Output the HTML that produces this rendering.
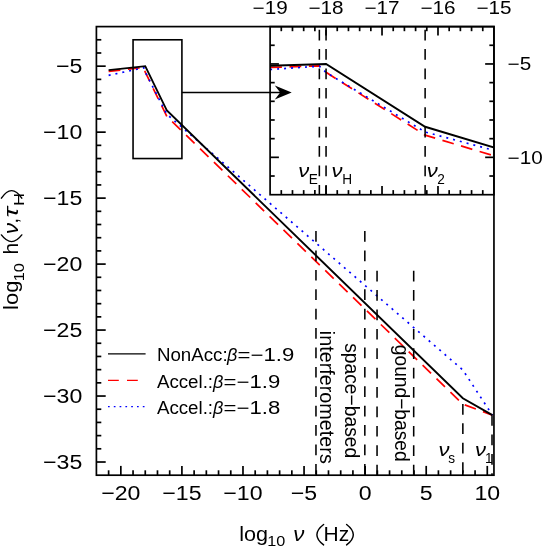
<!DOCTYPE html>
<html><head><meta charset="utf-8"><title>plot</title>
<style>html,body{margin:0;padding:0;background:#fff;}svg{display:block;will-change:transform;}</style>
</head><body>
<svg width="545" height="549" viewBox="0 0 545 549" font-family='"Liberation Sans", sans-serif' fill="#000">
<rect x="0" y="0" width="545" height="549" fill="#fff"/>
<defs><clipPath id="ci"><rect x="270.1" y="26.6" width="223.85" height="168.1"/></clipPath></defs>
<polyline points="108.62,71.3 143.79,67.5 145.26,72.09 166.88,116.47 462.85,404.19 492.41,415.17" fill="none" stroke="#f00" stroke-width="1.7" stroke-linejoin="miter" stroke-dasharray="11.8 7.6"/>
<polyline points="108.62,75.37 143.79,67.77 145.26,72.2 166.88,114.24 462.85,369.99 492.41,415.17" fill="none" stroke="#00f" stroke-width="1.7" stroke-linejoin="miter" stroke-dasharray="2 5"/>
<polyline points="108.62,70.14 145.26,66.18 166.88,110.55 462.85,398.28 492.41,415.17" fill="none" stroke="#000" stroke-width="1.9" stroke-linejoin="miter"/>
<g clip-path="url(#ci)">
<polyline points="270.1,67.47 319.35,65.82 326.06,72.32 425.12,135.14 1781.09,542.44 1916.52,557.98" fill="none" stroke="#f00" stroke-width="1.7" stroke-linejoin="miter" stroke-dasharray="11.8 7.6"/>
<polyline points="270.1,69.48 319.35,66.2 326.06,72.47 425.12,131.98 1781.09,494.03 1916.52,557.98" fill="none" stroke="#00f" stroke-width="1.7" stroke-linejoin="miter" stroke-dasharray="2 5"/>
<polyline points="270.1,65.82 326.06,63.96 425.12,126.77 1781.09,534.08 1916.52,557.98" fill="none" stroke="#000" stroke-width="1.9" stroke-linejoin="miter"/>
</g>
<line x1="315.97" y1="231.11" x2="315.97" y2="475.2" stroke="#000" stroke-width="1.55" stroke-dasharray="10.7 8.7"/>
<line x1="364.83" y1="231.11" x2="364.83" y2="475.2" stroke="#000" stroke-width="1.55" stroke-dasharray="10.7 8.7"/>
<line x1="377.05" y1="270.69" x2="377.05" y2="475.2" stroke="#000" stroke-width="1.55" stroke-dasharray="10.7 8.7"/>
<line x1="413.69" y1="270.69" x2="413.69" y2="475.2" stroke="#000" stroke-width="1.55" stroke-dasharray="10.7 8.7"/>
<line x1="462.85" y1="403.95" x2="462.85" y2="475.2" stroke="#000" stroke-width="1.55" stroke-dasharray="10.7 8.7"/>
<line x1="492.01" y1="415.17" x2="492.01" y2="475.2" stroke="#000" stroke-width="1.55" stroke-dasharray="10.7 8.7"/>
<line x1="319.35" y1="26.6" x2="319.35" y2="194.7" stroke="#000" stroke-width="1.55" stroke-dasharray="10.7 8.7" stroke-dashoffset="16.3"/>
<line x1="326.06" y1="26.6" x2="326.06" y2="194.7" stroke="#000" stroke-width="1.55" stroke-dasharray="10.7 8.7" stroke-dashoffset="16.3"/>
<line x1="425.12" y1="26.6" x2="425.12" y2="194.7" stroke="#000" stroke-width="1.55" stroke-dasharray="10.7 8.7" stroke-dashoffset="16.3"/>
<rect x="96.4" y="26.6" width="397.55" height="448.6" fill="none" stroke="#000" stroke-width="1.7"/>
<line x1="96.4" y1="462.01" x2="105.7" y2="462.01" stroke="#000" stroke-width="1.7"/>
<line x1="96.4" y1="448.81" x2="101.3" y2="448.81" stroke="#000" stroke-width="1.7"/>
<line x1="96.4" y1="435.62" x2="101.3" y2="435.62" stroke="#000" stroke-width="1.7"/>
<line x1="96.4" y1="422.42" x2="101.3" y2="422.42" stroke="#000" stroke-width="1.7"/>
<line x1="96.4" y1="409.23" x2="101.3" y2="409.23" stroke="#000" stroke-width="1.7"/>
<line x1="96.4" y1="396.04" x2="105.7" y2="396.04" stroke="#000" stroke-width="1.7"/>
<line x1="96.4" y1="382.84" x2="101.3" y2="382.84" stroke="#000" stroke-width="1.7"/>
<line x1="96.4" y1="369.65" x2="101.3" y2="369.65" stroke="#000" stroke-width="1.7"/>
<line x1="96.4" y1="356.45" x2="101.3" y2="356.45" stroke="#000" stroke-width="1.7"/>
<line x1="96.4" y1="343.26" x2="101.3" y2="343.26" stroke="#000" stroke-width="1.7"/>
<line x1="96.4" y1="330.06" x2="105.7" y2="330.06" stroke="#000" stroke-width="1.7"/>
<line x1="96.4" y1="316.87" x2="101.3" y2="316.87" stroke="#000" stroke-width="1.7"/>
<line x1="96.4" y1="303.68" x2="101.3" y2="303.68" stroke="#000" stroke-width="1.7"/>
<line x1="96.4" y1="290.48" x2="101.3" y2="290.48" stroke="#000" stroke-width="1.7"/>
<line x1="96.4" y1="277.29" x2="101.3" y2="277.29" stroke="#000" stroke-width="1.7"/>
<line x1="96.4" y1="264.09" x2="105.7" y2="264.09" stroke="#000" stroke-width="1.7"/>
<line x1="96.4" y1="250.9" x2="101.3" y2="250.9" stroke="#000" stroke-width="1.7"/>
<line x1="96.4" y1="237.71" x2="101.3" y2="237.71" stroke="#000" stroke-width="1.7"/>
<line x1="96.4" y1="224.51" x2="101.3" y2="224.51" stroke="#000" stroke-width="1.7"/>
<line x1="96.4" y1="211.32" x2="101.3" y2="211.32" stroke="#000" stroke-width="1.7"/>
<line x1="96.4" y1="198.12" x2="105.7" y2="198.12" stroke="#000" stroke-width="1.7"/>
<line x1="96.4" y1="184.93" x2="101.3" y2="184.93" stroke="#000" stroke-width="1.7"/>
<line x1="96.4" y1="171.74" x2="101.3" y2="171.74" stroke="#000" stroke-width="1.7"/>
<line x1="96.4" y1="158.54" x2="101.3" y2="158.54" stroke="#000" stroke-width="1.7"/>
<line x1="96.4" y1="145.35" x2="101.3" y2="145.35" stroke="#000" stroke-width="1.7"/>
<line x1="96.4" y1="132.15" x2="105.7" y2="132.15" stroke="#000" stroke-width="1.7"/>
<line x1="96.4" y1="118.96" x2="101.3" y2="118.96" stroke="#000" stroke-width="1.7"/>
<line x1="96.4" y1="105.76" x2="101.3" y2="105.76" stroke="#000" stroke-width="1.7"/>
<line x1="96.4" y1="92.57" x2="101.3" y2="92.57" stroke="#000" stroke-width="1.7"/>
<line x1="96.4" y1="79.38" x2="101.3" y2="79.38" stroke="#000" stroke-width="1.7"/>
<line x1="96.4" y1="66.18" x2="105.7" y2="66.18" stroke="#000" stroke-width="1.7"/>
<line x1="96.4" y1="52.99" x2="101.3" y2="52.99" stroke="#000" stroke-width="1.7"/>
<line x1="96.4" y1="39.79" x2="101.3" y2="39.79" stroke="#000" stroke-width="1.7"/>
<line x1="108.62" y1="475.2" x2="108.62" y2="470.3" stroke="#000" stroke-width="1.7"/>
<line x1="120.83" y1="475.2" x2="120.83" y2="465.9" stroke="#000" stroke-width="1.7"/>
<line x1="133.05" y1="475.2" x2="133.05" y2="470.3" stroke="#000" stroke-width="1.7"/>
<line x1="145.26" y1="475.2" x2="145.26" y2="470.3" stroke="#000" stroke-width="1.7"/>
<line x1="157.48" y1="475.2" x2="157.48" y2="470.3" stroke="#000" stroke-width="1.7"/>
<line x1="169.69" y1="475.2" x2="169.69" y2="470.3" stroke="#000" stroke-width="1.7"/>
<line x1="181.91" y1="475.2" x2="181.91" y2="465.9" stroke="#000" stroke-width="1.7"/>
<line x1="194.12" y1="475.2" x2="194.12" y2="470.3" stroke="#000" stroke-width="1.7"/>
<line x1="206.34" y1="475.2" x2="206.34" y2="470.3" stroke="#000" stroke-width="1.7"/>
<line x1="218.55" y1="475.2" x2="218.55" y2="470.3" stroke="#000" stroke-width="1.7"/>
<line x1="230.77" y1="475.2" x2="230.77" y2="470.3" stroke="#000" stroke-width="1.7"/>
<line x1="242.98" y1="475.2" x2="242.98" y2="465.9" stroke="#000" stroke-width="1.7"/>
<line x1="255.19" y1="475.2" x2="255.19" y2="470.3" stroke="#000" stroke-width="1.7"/>
<line x1="267.41" y1="475.2" x2="267.41" y2="470.3" stroke="#000" stroke-width="1.7"/>
<line x1="279.62" y1="475.2" x2="279.62" y2="470.3" stroke="#000" stroke-width="1.7"/>
<line x1="291.84" y1="475.2" x2="291.84" y2="470.3" stroke="#000" stroke-width="1.7"/>
<line x1="304.06" y1="475.2" x2="304.06" y2="465.9" stroke="#000" stroke-width="1.7"/>
<line x1="316.27" y1="475.2" x2="316.27" y2="470.3" stroke="#000" stroke-width="1.7"/>
<line x1="328.49" y1="475.2" x2="328.49" y2="470.3" stroke="#000" stroke-width="1.7"/>
<line x1="340.7" y1="475.2" x2="340.7" y2="470.3" stroke="#000" stroke-width="1.7"/>
<line x1="352.91" y1="475.2" x2="352.91" y2="470.3" stroke="#000" stroke-width="1.7"/>
<line x1="365.13" y1="475.2" x2="365.13" y2="465.9" stroke="#000" stroke-width="1.7"/>
<line x1="377.35" y1="475.2" x2="377.35" y2="470.3" stroke="#000" stroke-width="1.7"/>
<line x1="389.56" y1="475.2" x2="389.56" y2="470.3" stroke="#000" stroke-width="1.7"/>
<line x1="401.77" y1="475.2" x2="401.77" y2="470.3" stroke="#000" stroke-width="1.7"/>
<line x1="413.99" y1="475.2" x2="413.99" y2="470.3" stroke="#000" stroke-width="1.7"/>
<line x1="426.21" y1="475.2" x2="426.21" y2="465.9" stroke="#000" stroke-width="1.7"/>
<line x1="438.42" y1="475.2" x2="438.42" y2="470.3" stroke="#000" stroke-width="1.7"/>
<line x1="450.63" y1="475.2" x2="450.63" y2="470.3" stroke="#000" stroke-width="1.7"/>
<line x1="462.85" y1="475.2" x2="462.85" y2="470.3" stroke="#000" stroke-width="1.7"/>
<line x1="475.07" y1="475.2" x2="475.07" y2="470.3" stroke="#000" stroke-width="1.7"/>
<line x1="487.28" y1="475.2" x2="487.28" y2="465.9" stroke="#000" stroke-width="1.7"/>
<rect x="270.1" y="26.6" width="223.85" height="168.1" fill="none" stroke="#000" stroke-width="1.7"/>
<line x1="281.29" y1="26.6" x2="281.29" y2="31.2" stroke="#000" stroke-width="1.7"/>
<line x1="281.29" y1="194.7" x2="281.29" y2="190.1" stroke="#000" stroke-width="1.7"/>
<line x1="292.48" y1="26.6" x2="292.48" y2="31.2" stroke="#000" stroke-width="1.7"/>
<line x1="292.48" y1="194.7" x2="292.48" y2="190.1" stroke="#000" stroke-width="1.7"/>
<line x1="303.68" y1="26.6" x2="303.68" y2="31.2" stroke="#000" stroke-width="1.7"/>
<line x1="303.68" y1="194.7" x2="303.68" y2="190.1" stroke="#000" stroke-width="1.7"/>
<line x1="314.87" y1="26.6" x2="314.87" y2="31.2" stroke="#000" stroke-width="1.7"/>
<line x1="314.87" y1="194.7" x2="314.87" y2="190.1" stroke="#000" stroke-width="1.7"/>
<line x1="326.06" y1="26.6" x2="326.06" y2="35.4" stroke="#000" stroke-width="1.7"/>
<line x1="326.06" y1="194.7" x2="326.06" y2="185.9" stroke="#000" stroke-width="1.7"/>
<line x1="337.25" y1="26.6" x2="337.25" y2="31.2" stroke="#000" stroke-width="1.7"/>
<line x1="337.25" y1="194.7" x2="337.25" y2="190.1" stroke="#000" stroke-width="1.7"/>
<line x1="348.45" y1="26.6" x2="348.45" y2="31.2" stroke="#000" stroke-width="1.7"/>
<line x1="348.45" y1="194.7" x2="348.45" y2="190.1" stroke="#000" stroke-width="1.7"/>
<line x1="359.64" y1="26.6" x2="359.64" y2="31.2" stroke="#000" stroke-width="1.7"/>
<line x1="359.64" y1="194.7" x2="359.64" y2="190.1" stroke="#000" stroke-width="1.7"/>
<line x1="370.83" y1="26.6" x2="370.83" y2="31.2" stroke="#000" stroke-width="1.7"/>
<line x1="370.83" y1="194.7" x2="370.83" y2="190.1" stroke="#000" stroke-width="1.7"/>
<line x1="382.02" y1="26.6" x2="382.02" y2="35.4" stroke="#000" stroke-width="1.7"/>
<line x1="382.02" y1="194.7" x2="382.02" y2="185.9" stroke="#000" stroke-width="1.7"/>
<line x1="393.22" y1="26.6" x2="393.22" y2="31.2" stroke="#000" stroke-width="1.7"/>
<line x1="393.22" y1="194.7" x2="393.22" y2="190.1" stroke="#000" stroke-width="1.7"/>
<line x1="404.41" y1="26.6" x2="404.41" y2="31.2" stroke="#000" stroke-width="1.7"/>
<line x1="404.41" y1="194.7" x2="404.41" y2="190.1" stroke="#000" stroke-width="1.7"/>
<line x1="415.6" y1="26.6" x2="415.6" y2="31.2" stroke="#000" stroke-width="1.7"/>
<line x1="415.6" y1="194.7" x2="415.6" y2="190.1" stroke="#000" stroke-width="1.7"/>
<line x1="426.8" y1="26.6" x2="426.8" y2="31.2" stroke="#000" stroke-width="1.7"/>
<line x1="426.8" y1="194.7" x2="426.8" y2="190.1" stroke="#000" stroke-width="1.7"/>
<line x1="437.99" y1="26.6" x2="437.99" y2="35.4" stroke="#000" stroke-width="1.7"/>
<line x1="437.99" y1="194.7" x2="437.99" y2="185.9" stroke="#000" stroke-width="1.7"/>
<line x1="449.18" y1="26.6" x2="449.18" y2="31.2" stroke="#000" stroke-width="1.7"/>
<line x1="449.18" y1="194.7" x2="449.18" y2="190.1" stroke="#000" stroke-width="1.7"/>
<line x1="460.37" y1="26.6" x2="460.37" y2="31.2" stroke="#000" stroke-width="1.7"/>
<line x1="460.37" y1="194.7" x2="460.37" y2="190.1" stroke="#000" stroke-width="1.7"/>
<line x1="471.56" y1="26.6" x2="471.56" y2="31.2" stroke="#000" stroke-width="1.7"/>
<line x1="471.56" y1="194.7" x2="471.56" y2="190.1" stroke="#000" stroke-width="1.7"/>
<line x1="482.76" y1="26.6" x2="482.76" y2="31.2" stroke="#000" stroke-width="1.7"/>
<line x1="482.76" y1="194.7" x2="482.76" y2="190.1" stroke="#000" stroke-width="1.7"/>
<line x1="270.1" y1="176.02" x2="274.7" y2="176.02" stroke="#000" stroke-width="1.7"/>
<line x1="493.95" y1="176.02" x2="489.35" y2="176.02" stroke="#000" stroke-width="1.7"/>
<line x1="270.1" y1="157.34" x2="278.9" y2="157.34" stroke="#000" stroke-width="1.7"/>
<line x1="493.95" y1="157.34" x2="485.15" y2="157.34" stroke="#000" stroke-width="1.7"/>
<line x1="270.1" y1="138.67" x2="274.7" y2="138.67" stroke="#000" stroke-width="1.7"/>
<line x1="493.95" y1="138.67" x2="489.35" y2="138.67" stroke="#000" stroke-width="1.7"/>
<line x1="270.1" y1="119.99" x2="274.7" y2="119.99" stroke="#000" stroke-width="1.7"/>
<line x1="493.95" y1="119.99" x2="489.35" y2="119.99" stroke="#000" stroke-width="1.7"/>
<line x1="270.1" y1="101.31" x2="274.7" y2="101.31" stroke="#000" stroke-width="1.7"/>
<line x1="493.95" y1="101.31" x2="489.35" y2="101.31" stroke="#000" stroke-width="1.7"/>
<line x1="270.1" y1="82.63" x2="274.7" y2="82.63" stroke="#000" stroke-width="1.7"/>
<line x1="493.95" y1="82.63" x2="489.35" y2="82.63" stroke="#000" stroke-width="1.7"/>
<line x1="270.1" y1="63.96" x2="278.9" y2="63.96" stroke="#000" stroke-width="1.7"/>
<line x1="493.95" y1="63.96" x2="485.15" y2="63.96" stroke="#000" stroke-width="1.7"/>
<line x1="270.1" y1="45.28" x2="274.7" y2="45.28" stroke="#000" stroke-width="1.7"/>
<line x1="493.95" y1="45.28" x2="489.35" y2="45.28" stroke="#000" stroke-width="1.7"/>
<rect x="133.05" y="39.79" width="48.86" height="118.75" fill="none" stroke="#000" stroke-width="1.6"/>
<line x1="181.91" y1="92.57" x2="282" y2="92.57" stroke="#000" stroke-width="1.5"/>
<polygon points="291.7,92.57 274.8,85.57 280.2,92.57 274.8,99.57" fill="#000"/>
<text x="0" y="0" font-size="20.3" text-anchor="end" transform="translate(82.3 469.26) scale(1.14 1)">−35</text>
<text x="0" y="0" font-size="20.3" text-anchor="end" transform="translate(82.3 403.29) scale(1.14 1)">−30</text>
<text x="0" y="0" font-size="20.3" text-anchor="end" transform="translate(82.3 337.31) scale(1.14 1)">−25</text>
<text x="0" y="0" font-size="20.3" text-anchor="end" transform="translate(82.3 271.34) scale(1.14 1)">−20</text>
<text x="0" y="0" font-size="20.3" text-anchor="end" transform="translate(82.3 205.37) scale(1.14 1)">−15</text>
<text x="0" y="0" font-size="20.3" text-anchor="end" transform="translate(82.3 139.4) scale(1.14 1)">−10</text>
<text x="0" y="0" font-size="20.3" text-anchor="end" transform="translate(82.3 73.43) scale(1.14 1)">−5</text>
<text x="0" y="0" font-size="20.3" text-anchor="middle" transform="translate(120.83 500) scale(1.14 1)">−20</text>
<text x="0" y="0" font-size="20.3" text-anchor="middle" transform="translate(181.91 500) scale(1.14 1)">−15</text>
<text x="0" y="0" font-size="20.3" text-anchor="middle" transform="translate(242.98 500) scale(1.14 1)">−10</text>
<text x="0" y="0" font-size="20.3" text-anchor="middle" transform="translate(304.06 500) scale(1.14 1)">−5</text>
<text x="0" y="0" font-size="20.3" text-anchor="middle" transform="translate(365.13 500) scale(1.14 1)">0</text>
<text x="0" y="0" font-size="20.3" text-anchor="middle" transform="translate(426.21 500) scale(1.14 1)">5</text>
<text x="0" y="0" font-size="20.3" text-anchor="middle" transform="translate(487.28 500) scale(1.14 1)">10</text>
<text x="0" y="0" font-size="18" text-anchor="middle" transform="translate(270.1 14.4) scale(1.15 1)">−19</text>
<text x="0" y="0" font-size="18" text-anchor="middle" transform="translate(326.06 14.4) scale(1.15 1)">−18</text>
<text x="0" y="0" font-size="18" text-anchor="middle" transform="translate(382.02 14.4) scale(1.15 1)">−17</text>
<text x="0" y="0" font-size="18" text-anchor="middle" transform="translate(437.99 14.4) scale(1.15 1)">−16</text>
<text x="0" y="0" font-size="18" text-anchor="middle" transform="translate(493.95 14.4) scale(1.15 1)">−15</text>
<text x="0" y="0" font-size="18" transform="translate(507.6 70.46) scale(1.15 1)">−5</text>
<text x="0" y="0" font-size="18" transform="translate(507.6 163.84) scale(1.15 1)">−10</text>
<text x="0" y="0" font-size="20" transform="translate(239.2 540.6) scale(1.08 1)">log</text>
<text x="0" y="0" font-size="14.5" transform="translate(267.3 546.2) scale(1.12 1)">10</text>
<text x="0" y="0" font-size="19.5" font-style="italic" transform="translate(293.3 540.6) scale(1.14 1)">ν</text>
<path d="M323.6 524.5 Q310.2 534.7 323.6 544.9" fill="none" stroke="#000" stroke-width="1.45" stroke-linecap="round"/>
<text x="0" y="0" font-size="20" transform="translate(323.5 540.6) scale(1.05 1)">Hz</text>
<path d="M346.6 524.5 Q360 534.7 346.6 544.9" fill="none" stroke="#000" stroke-width="1.45" stroke-linecap="round"/>
<g transform="translate(17.5 309.9) rotate(-90)">
<text x="0" y="0" font-size="20" transform="translate(0 0) scale(1.1 1)">log</text>
<text x="0" y="0" font-size="14.5" transform="translate(28.6 6.6) scale(1.12 1)">10</text>
<text x="0" y="0" font-size="20" transform="translate(55.5 0) scale(1.05 1)">h</text>
<path d="M75 -16.1 Q61.6 -5.9 75 4.3" fill="none" stroke="#000" stroke-width="1.45" stroke-linecap="round"/>
<text x="0" y="0" font-size="19.5" font-style="italic" transform="translate(75.8 0) scale(1.14 1)">ν</text>
<text x="86.5" y="0" font-size="20">,</text>
<text x="0" y="0" font-size="20" font-style="italic" transform="translate(92.3 0) scale(1.4 1)">τ</text>
<text x="0" y="0" font-size="14.5" transform="translate(104 6.6) scale(1.25 1)">H</text>
<path d="M111.7 -16.1 Q126.9 -5.9 111.7 4.3" fill="none" stroke="#000" stroke-width="1.45" stroke-linecap="round"/>
</g>
<line x1="108" y1="353.9" x2="145.6" y2="353.9" stroke="#000" stroke-width="1.4"/>
<line x1="108" y1="380.4" x2="145.6" y2="380.4" stroke="#f00" stroke-width="1.4" stroke-dasharray="10.8 8.2"/>
<line x1="108" y1="406.6" x2="145.6" y2="406.6" stroke="#00f" stroke-width="1.4" stroke-dasharray="1.7 4.1"/>
<text x="0" y="0" font-size="18" transform="translate(156.9 361) scale(1.04 1)">NonAcc:</text>
<text x="0" y="0" font-size="18" font-style="italic" transform="translate(227 361) scale(1 1)">β</text>
<text x="0" y="0" font-size="18" transform="translate(237.6 361) scale(1.23 1)">=−1.9</text>
<text x="0" y="0" font-size="18" transform="translate(156.9 387.5) scale(1.04 1)">Accel.:</text>
<text x="0" y="0" font-size="18" font-style="italic" transform="translate(213 387.5) scale(1 1)">β</text>
<text x="0" y="0" font-size="18" transform="translate(223.6 387.5) scale(1.23 1)">=−1.9</text>
<text x="0" y="0" font-size="18" transform="translate(156.9 413.8) scale(1.04 1)">Accel.:</text>
<text x="0" y="0" font-size="18" font-style="italic" transform="translate(213 413.8) scale(1 1)">β</text>
<text x="0" y="0" font-size="18" transform="translate(223.6 413.8) scale(1.23 1)">=−1.8</text>
<text x="0" y="0" font-size="19" font-style="italic" transform="translate(298.2 176.5) scale(1.16 1)">ν</text>
<text x="0" y="0" font-size="14.5" transform="translate(308.8 183.7) scale(0.94 1)">E</text>
<text x="0" y="0" font-size="19" font-style="italic" transform="translate(331.6 176.5) scale(1.16 1)">ν</text>
<text x="0" y="0" font-size="14.5" transform="translate(342.2 183.7) scale(0.94 1)">H</text>
<text x="0" y="0" font-size="19" font-style="italic" transform="translate(426.7 176.5) scale(1.16 1)">ν</text>
<text x="0" y="0" font-size="14.5" transform="translate(437.3 183.7) scale(0.94 1)">2</text>
<text x="0" y="0" font-size="19" font-style="italic" transform="translate(438.4 456.4) scale(1.16 1)">ν</text>
<text x="0" y="0" font-size="14.5" transform="translate(448.2 462.8) scale(0.94 1)">s</text>
<text x="0" y="0" font-size="19" font-style="italic" transform="translate(475.1 456.4) scale(1.16 1)">ν</text>
<text x="0" y="0" font-size="14.5" transform="translate(484.9 462.8) scale(0.94 1)">1</text>
<text x="0" y="0" font-size="20" textLength="133" lengthAdjust="spacingAndGlyphs" transform="translate(320 330.8) rotate(90)">interferometers</text>
<text x="0" y="0" font-size="20" textLength="115" lengthAdjust="spacingAndGlyphs" transform="translate(345.3 343.2) rotate(90)">space−based</text>
<text x="0" y="0" font-size="20" textLength="116.8" lengthAdjust="spacingAndGlyphs" transform="translate(394.8 344.8) rotate(90)">gound−based</text>
</svg>
</body></html>
